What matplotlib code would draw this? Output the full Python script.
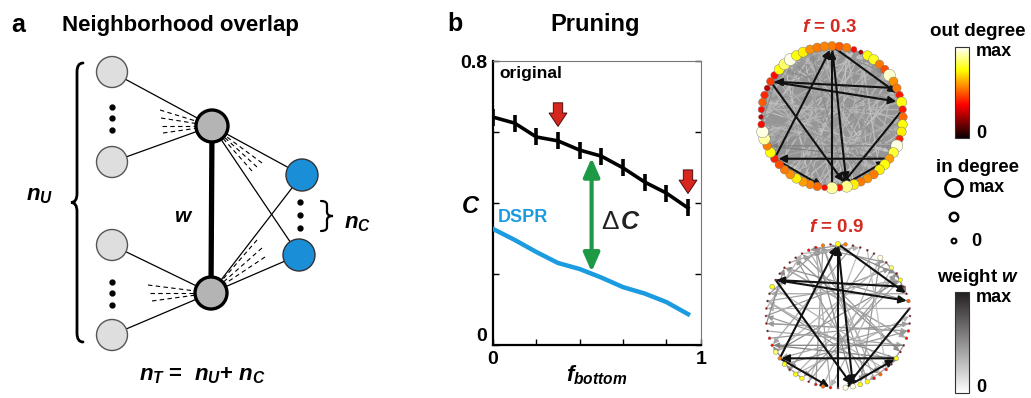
import numpy as np
import matplotlib
matplotlib.use("Agg")
import matplotlib.pyplot as plt
from matplotlib.patches import Circle, Rectangle, FancyArrowPatch, PathPatch
from matplotlib.path import Path
from matplotlib.colors import LinearSegmentedColormap

plt.rcParams['font.family'] = ['Liberation Sans', 'DejaVu Sans']
plt.rcParams['font.weight'] = 'bold'
plt.rcParams['mathtext.fontset'] = 'custom'
plt.rcParams['mathtext.rm'] = 'Liberation Sans:bold'
plt.rcParams['mathtext.it'] = 'Liberation Sans:italic:bold'
plt.rcParams['mathtext.bf'] = 'Liberation Sans:bold'

# ---------------- data : panel b (pruning) ----------------
f_bottom = [0.0, 0.1, 0.2, 0.3, 0.4, 0.5, 0.6, 0.7, 0.8, 0.9]
C_original = [0.642, 0.625, 0.586, 0.575, 0.549, 0.532, 0.499, 0.459, 0.428, 0.386]
C_original_err = [0.024, 0.024, 0.024, 0.024, 0.024, 0.024, 0.024, 0.024, 0.024, 0.024]
C_dspr = [0.327, 0.296, 0.262, 0.231, 0.214, 0.190, 0.163, 0.145, 0.121, 0.087]
f_marked = [0.3, 0.9]
dC_at = 0.455

# ---------------- data : panel a (schematic, pixel units) ----------------
periph_x = [112, 112, 112, 112]
periph_y = [72, 162, 245, 335]
hub_x = [212, 211]
hub_y = [126, 293]
shared_x = [302, 299]
shared_y = [175, 255]
# dashed stubs (start points), each ends on a hub
dash_hub0 = [(160, 110), (161, 118), (162, 126), (163, 133), (262, 163), (257, 167), (252, 171)]
dash_hub1 = [(148, 285), (150, 293), (152, 301), (257, 240), (262, 248), (265, 257)]

# ---------------- data : networks (node 0 at top, clockwise) ----------------
out_deg_03 = [0.55, 0.50, 0.55, 0.38, 0.25, 0.75, 0.78, 0.55, 0.48, 0.95,
              0.58, 0.55, 0.40, 0.75, 0.40, 0.52, 0.75, 0.72, 0.42, 0.97,
              0.80, 0.60, 0.75, 0.72, 0.55, 0.58, 0.55, 0.72, 0.88, 0.40,
              0.90, 0.38, 0.52, 0.56, 0.60, 0.72, 0.58, 0.55, 0.48, 0.42,
              0.75, 0.55, 0.90, 0.97, 0.38, 0.25, 0.38, 0.50, 0.42, 0.28,
              0.45, 0.38, 0.75, 0.85, 0.97, 0.75, 0.72, 0.58, 0.55, 0.56]
in_deg_03 = [0.60, 0.55, 0.55, 0.30, 0.15, 0.65, 0.70, 0.55, 0.55, 0.90,
             0.60, 0.55, 0.45, 0.75, 0.45, 0.55, 0.65, 0.65, 0.45, 0.90,
             0.70, 0.60, 0.70, 0.70, 0.60, 0.60, 0.55, 0.70, 0.85, 0.40,
             0.85, 0.30, 0.55, 0.55, 0.60, 0.65, 0.60, 0.55, 0.55, 0.50,
             0.70, 0.55, 0.85, 0.90, 0.40, 0.20, 0.35, 0.50, 0.45, 0.30,
             0.50, 0.45, 0.70, 0.80, 0.90, 0.70, 0.70, 0.60, 0.60, 0.60]
out_deg_09 = [0.75, 0.55, 0.20, 0.20, 0.20, 0.20, 0.97, 0.20, 0.85, 0.20,
              0.75, 0.22, 0.20, 0.50, 0.20, 0.20, 0.20, 0.38, 0.38, 0.20,
              0.20, 0.75, 0.22, 0.38, 0.52, 0.38, 0.75, 0.75, 0.97, 0.97,
              0.20, 0.38, 0.52, 0.38, 0.20, 0.75, 0.75, 0.20, 0.75, 0.55,
              0.85, 0.38, 0.38, 0.20, 0.20, 0.20, 0.20, 0.20, 0.20, 0.75,
              0.20, 0.20, 0.20, 0.20, 0.20, 0.20, 0.38, 0.38, 0.55, 0.20]
in_deg_09 = [0.60, 0.35, 0.05, 0.05, 0.05, 0.05, 0.65, 0.05, 0.45, 0.05,
             0.45, 0.05, 0.05, 0.35, 0.05, 0.05, 0.05, 0.20, 0.20, 0.05,
             0.05, 0.50, 0.05, 0.20, 0.35, 0.20, 0.50, 0.55, 0.65, 0.65,
             0.05, 0.20, 0.35, 0.20, 0.05, 0.50, 0.50, 0.05, 0.55, 0.35,
             0.55, 0.20, 0.20, 0.05, 0.05, 0.05, 0.05, 0.05, 0.05, 0.55,
             0.05, 0.05, 0.05, 0.05, 0.05, 0.05, 0.20, 0.20, 0.35, 0.05]
# strongest links (kept at both thresholds)
strong_edges = [(30, 0), (0, 28), (50, 13), (11, 50), (0, 12), (39, 0),
                (39, 31), (50, 28), (14, 29), (21, 39), (29, 21)]
# weaker links that survive f = 0.9 (src, dst, grey level)
weak_edges = [(45, 8, .60), (47, 10, .65), (44, 17, .70), (42, 16, .60), (40, 10, .55),
              (36, 9, .70), (33, 58, .60), (31, 57, .65), (25, 58, .70), (20, 55, .60),
              (18, 52, .75), (17, 44, .60), (14, 46, .70), (13, 52, .55), (12, 48, .65),
              (7, 40, .70), (5, 37, .60), (3, 34, .75), (2, 41, .65), (58, 26, .60),
              (56, 24, .70), (54, 20, .55), (52, 18, .65), (49, 22, .70), (47, 24, .60),
              (43, 19, .65), (41, 21, .50), (38, 17, .60), (36, 15, .70), (34, 9, .60),
              (32, 6, .70), (28, 57, .55), (26, 54, .60), (23, 47, .70), (21, 45, .60),
              (19, 41, .50), (16, 39, .65), (10, 35, .60), (8, 31, .70), (6, 27, .60),
              (4, 23, .75), (1, 56, .60), (59, 9, .55), (57, 7, .60), (55, 3, .70),
              (53, 1, .65), (48, 58, .60), (46, 55, .70), (44, 52, .55), (19, 22, .60),
              (22, 26, .65), (35, 38, .60), (37, 41, .55), (7, 10, .60), (9, 12, .50)]
# extra links present only at f = 0.3
extra_edges = [(1, 33, .72), (2, 29, .78), (3, 40, .70), (4, 25, .75), (5, 45, .72),
               (6, 36, .78), (8, 42, .70), (9, 30, .75), (11, 37, .72), (12, 34, .78),
               (13, 43, .70), (15, 47, .75), (16, 53, .72), (17, 31, .78), (18, 38, .70),
               (20, 44, .75), (22, 49, .72), (23, 56, .78), (24, 51, .70), (25, 2, .75),
               (26, 8, .72), (27, 59, .78), (29, 5, .70), (30, 14, .75), (31, 50, .72),
               (32, 11, .78), (33, 16, .70), (35, 4, .75), (37, 55, .72), (38, 3, .78),
               (40, 1, .70), (42, 6, .75), (43, 12, .72), (46, 20, .78), (48, 25, .70),
               (49, 5, .75), (51, 27, .72), (53, 33, .78), (54, 10, .70), (56, 30, .75),
               (57, 18, .72), (58, 44, .78), (59, 35, .70), (0, 45, .75), (10, 24, .72)]

W, H = 1031, 398
fig = plt.figure(figsize=(W / 100, H / 100), dpi=100)
fig.patch.set_facecolor('white')

# overlay axes in pixel coordinates (schematic, labels, legends)
ax0 = fig.add_axes([0, 0, 1, 1])
ax0.axis('off')


def brace(ax, x, y0, y1, d, c, lw=2.0):
    ym = (y0 + y1) / 2
    verts = [(x + d, y0), (x, y0), (x, y0 + c), (x, ym - c), (x, ym), (x - d, ym),
             (x, ym), (x, ym + c), (x, y1 - c), (x, y1), (x + d, y1)]
    codes = [Path.MOVETO, Path.CURVE3, Path.CURVE3, Path.LINETO, Path.CURVE3, Path.CURVE3,
             Path.CURVE3, Path.CURVE3, Path.LINETO, Path.CURVE3, Path.CURVE3]
    ax.add_patch(PathPatch(Path(verts, codes), fc='none', ec='black', lw=lw, capstyle='round'))


# ---- panel a ----
for k in range(4):
    h = 0 if k < 2 else 1
    ax0.plot([periph_x[k], hub_x[h]], [periph_y[k], hub_y[h]], color='black', lw=0.9, zorder=1)
for h in range(2):
    for s in range(2):
        ax0.plot([hub_x[h], shared_x[s]], [hub_y[h], shared_y[s]], color='black', lw=0.9, zorder=1)
for (x, y) in dash_hub0:
    ax0.plot([x, hub_x[0]], [y, hub_y[0]], color='black', lw=0.8, ls=(0, (4, 3)), zorder=1)
for (x, y) in dash_hub1:
    ax0.plot([x, hub_x[1]], [y, hub_y[1]], color='black', lw=0.8, ls=(0, (4, 3)), zorder=1)
ax0.plot(hub_x, hub_y, color='black', lw=3.8, zorder=2)

for x, y in zip(periph_x, periph_y):
    ax0.add_patch(Circle((x, y), 15.5, fc='#dedede', ec='#555555', lw=1.0, zorder=3))
for x, y in zip(hub_x, hub_y):
    ax0.add_patch(Circle((x, y), 16, fc='#b4b4b4', ec='black', lw=2.4, zorder=3))
for x, y in zip(shared_x, shared_y):
    ax0.add_patch(Circle((x, y), 16, fc='#1a8fd8', ec='#333333', lw=1.0, zorder=3))

ax0.plot([112, 112, 112], [107, 118, 130], 'o', color='black', ms=3.5)
ax0.plot([112, 112, 112], [282, 293, 305], 'o', color='black', ms=3.5)
ax0.plot([300, 300, 300], [202, 215, 228], 'o', color='black', ms=3.5)

brace(ax0, 77, 63, 342, 6, 9, lw=2.0)
brace(ax0, 327, 201, 231, -6, 4, lw=1.6)

ax0.text(18, 25, 'a', fontsize=18, ha='center', va='center')
ax0.text(62, 25, 'Neighborhood overlap', fontsize=16, ha='left', va='center')
ax0.text(40, 195, r'$n_U$', fontsize=16, ha='center', va='center')
ax0.text(184, 217, r'$w$', fontsize=15, ha='center', va='center')
ax0.text(357, 224, r'$n_C$', fontsize=16, ha='center', va='center')
ax0.text(202, 375, r'$n_T$ =  $n_U$+ $n_C$', fontsize=16, ha='center', va='center')

# ---- panel b ----
ax0.text(455, 24, 'b', fontsize=18, ha='center', va='center')
ax0.text(550, 24, 'Pruning', fontsize=17, ha='left', va='center')

ax = fig.add_axes([493 / W, 1 - 345 / H, 208 / W, 284 / H])
ax.errorbar(f_bottom, C_original, yerr=C_original_err, color='black', lw=2.6,
            elinewidth=2.6, capsize=0, zorder=3)
ax.plot(f_bottom, C_dspr, color='#1b9be0', lw=3.2, zorder=3)
ax.set_xlim(0, 0.96)
ax.set_ylim(0, 0.8)
ax.set_xticks([0, 0.2, 0.4, 0.6, 0.8, 0.96])
ax.set_xticklabels(['0', '', '', '', '', '1'])
ax.set_yticks([0, 0.2, 0.4, 0.6, 0.8])
ax.set_yticklabels(['0', '', '', '', '0.8'])
ax.tick_params(direction='in', length=4, width=1, right=True, top=False,
               labelsize=14, pad=4, colors='black')
ax.get_yticklabels()[0].set_va('bottom')
for side in ['left', 'bottom']:
    ax.spines[side].set_linewidth(1.6)
for side in ['top', 'right']:
    ax.spines[side].set_linewidth(0.8)
    ax.spines[side].set_color('#777777')

for fm in f_marked:
    yv = C_original[f_bottom.index(fm)]
    ax.annotate('', xy=(fm, yv + 0.033), xytext=(fm, yv + 0.115),
                arrowprops=dict(arrowstyle='simple,head_length=0.6,head_width=0.8,tail_width=0.42',
                                mutation_scale=16, fc='#d7261e', ec='#4a0f0f', lw=0.7))
ax.annotate('', xy=(dC_at, 0.527), xytext=(dC_at, 0.206),
            arrowprops=dict(arrowstyle='<|-|>,head_length=0.8,head_width=0.35',
                            mutation_scale=14, color='#1e9a47', lw=3, shrinkA=0, shrinkB=0))
ax.text(0.03, 0.766, 'original', fontsize=12.5, ha='left', va='center')
ax.text(0.023, 0.36, 'DSPR', fontsize=13, color='#1b9be0', ha='left', va='center')
ax.text(0.5, 0.347, 'Δ', fontsize=19, fontweight='normal', color='#222222', ha='left', va='center')
ax.text(0.585, 0.347, r'$C$', fontsize=18, color='#222222', ha='left', va='center')
ax.text(-0.105, 0.39, r'$C$', fontsize=17, ha='center', va='center', clip_on=False)
ax.text(0.48, -0.085, r'$f_{bottom}$', fontsize=16, ha='center', va='center', clip_on=False)


# ---- panel c : networks ----
def draw_network(cx, cy, R, out_deg, in_deg, r_min, r_max, edges, fill=None):
    half = 92
    axn = fig.add_axes([(cx - half) / W, 1 - (cy + half) / H, 2 * half / W, 2 * half / H])
    axn.set_xlim(-half, half)
    axn.set_ylim(-half, half)
    axn.axis('off')
    n = len(out_deg)
    ang = np.deg2rad(90 - 360.0 / n * np.arange(n))
    xs, ys = R * np.cos(ang), R * np.sin(ang)
    rad = r_min + (r_max - r_min) * np.array(in_deg)
    if fill is not None:
        axn.add_patch(Circle((0, 0), R, fc=fill, ec='none', zorder=0))
    for (s, t, g, lw, ms) in edges:
        dx, dy = xs[t] - xs[s], ys[t] - ys[s]
        L = np.hypot(dx, dy)
        p0 = (xs[s] + dx / L * rad[s], ys[s] + dy / L * rad[s])
        p1 = (xs[t] - dx / L * rad[t], ys[t] - dy / L * rad[t])
        axn.add_patch(FancyArrowPatch(p0, p1, arrowstyle='-|>', mutation_scale=ms,
                                      color=g, lw=lw, shrinkA=0, shrinkB=0, zorder=1))
    cmap = plt.get_cmap('hot')
    for i in range(n):
        axn.add_patch(Circle((xs[i], ys[i]), rad[i], fc=cmap(out_deg[i]), ec='#777777',
                             lw=0.3, zorder=3))
    return axn


strong = [(s, t, '#111111', 1.5, 11) for (s, t) in strong_edges]
weak = [(s, t, str(g), 0.9, 8) for (s, t, g) in weak_edges]
extra = [(s, t, str(g), 0.8, 6) for (s, t, g) in extra_edges]

draw_network(832, 117, 71, out_deg_03, in_deg_03, 1.5, 6.5,
             extra + weak + strong, fill='#959595')
draw_network(838, 316, 72, out_deg_09, in_deg_09, 0.9, 3.6,
             weak + strong)

ax0.text(829, 28, r'$f$ = 0.3', fontsize=13.5, color='#d42a20', ha='center', va='center')
ax0.text(836, 227, r'$f$ = 0.9', fontsize=13.5, color='#d42a20', ha='center', va='center')

# ---- legends ----
grad = np.linspace(0, 1, 256).reshape(-1, 1)
ax0.text(978, 32, 'out degree', fontsize=13.5, ha='center', va='center')
ax0.imshow(grad, extent=[955, 969, 138, 47], origin='lower', aspect='auto', cmap='hot', zorder=2)
ax0.add_patch(Rectangle((955, 47), 14, 91, fc='none', ec='#333333', lw=0.8, zorder=3))
ax0.text(976, 51, 'max', fontsize=13, ha='left', va='center')
ax0.text(976, 133, '0', fontsize=13, ha='left', va='center')

ax0.text(978, 167, 'in degree', fontsize=13.5, ha='center', va='center')
ax0.add_patch(Circle((954, 188), 8.5, fc='white', ec='black', lw=2.0))
ax0.add_patch(Circle((954, 217), 4.2, fc='white', ec='black', lw=1.8))
ax0.add_patch(Circle((954, 241), 2.4, fc='white', ec='black', lw=1.5))
ax0.text(969, 188, 'max', fontsize=13, ha='left', va='center')
ax0.text(971, 241, '0', fontsize=13, ha='left', va='center')

ax0.text(978, 277, r'weight $w$', fontsize=13.5, ha='center', va='center')
wcmap = LinearSegmentedColormap.from_list('w', ['#ffffff', '#231f20'])
ax0.imshow(grad, extent=[955, 969, 393, 292], origin='lower', aspect='auto', cmap=wcmap, zorder=2)
ax0.add_patch(Rectangle((955, 292), 14, 101, fc='none', ec='#333333', lw=0.8, zorder=3))
ax0.text(976, 298, 'max', fontsize=13, ha='left', va='center')
ax0.text(976, 388, '0', fontsize=13, ha='left', va='center')

ax0.set_xlim(0, W)
ax0.set_ylim(H, 0)

fig.savefig('out.png', dpi=100)
